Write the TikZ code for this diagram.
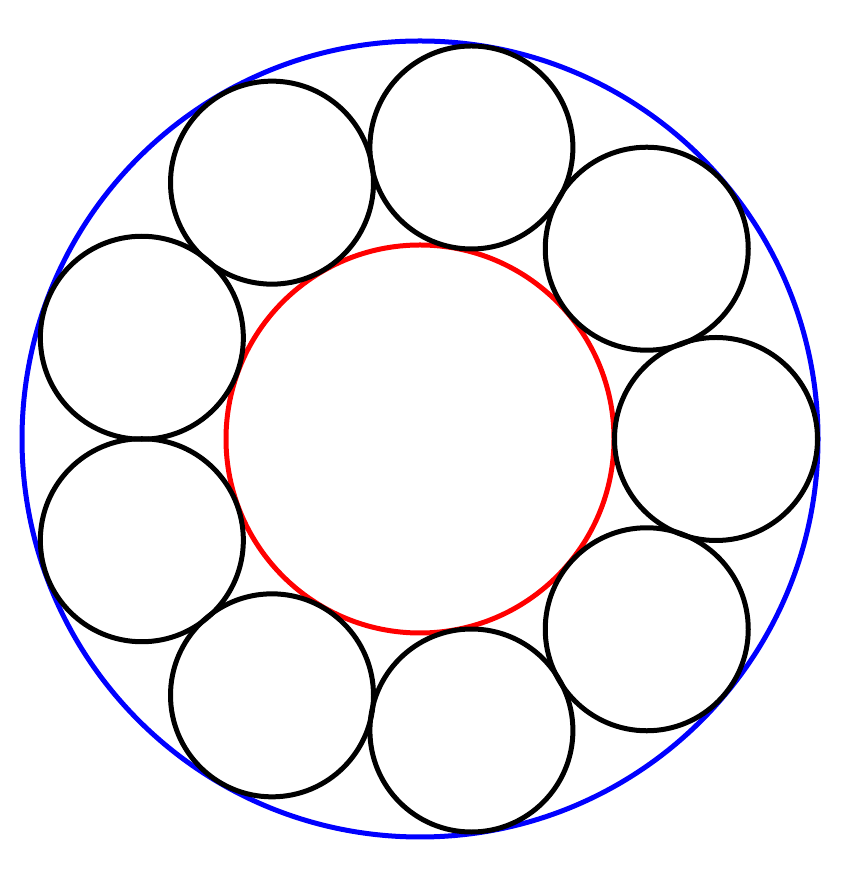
\documentclass[tikz,border=0pt]{standalone}
\usetikzlibrary{calc}
\begin{document}
\begin{tikzpicture}[x=1pt,y=1pt,
  ring/.style={line width=5pt},
  outerc/.style={ring,draw={rgb,255:red,0;green,0;blue,255}},
  innerc/.style={ring,draw={rgb,255:red,255;green,0;blue,0}},
  chain/.style={ring,draw=black}]
\useasboundingbox (0,0) rectangle (840,880);
\coordinate (O) at (420,441);
\draw[outerc] (O) circle (398);
\draw[innerc] (O) circle (194);
\foreach \a in {0,40,...,320}{
  \draw[chain] ($(O)+(\a:296)$) circle (101.5);
}
\end{tikzpicture}
\end{document}
